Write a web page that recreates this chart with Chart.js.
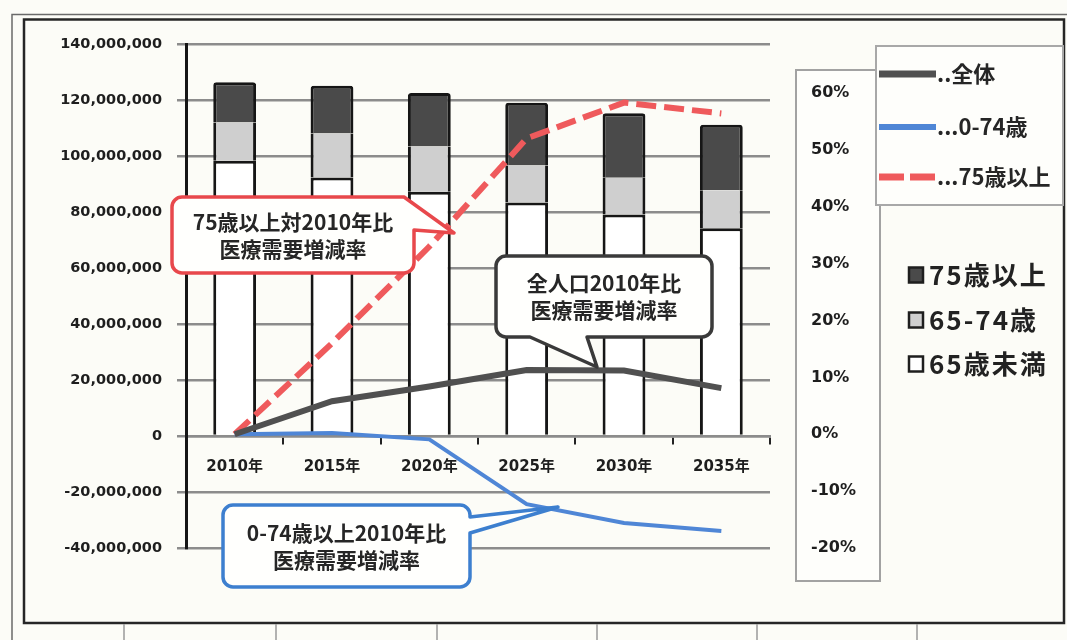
<!DOCTYPE html>
<html lang="ja">
<head>
<meta charset="utf-8">
<title>医療需要増減率</title>
<script src="https://cdn.jsdelivr.net/npm/chart.js@4.4.1/dist/chart.umd.min.js"></script>
<style>
  html, body { margin: 0; padding: 0; background: #fcfcf7; }
  canvas { display: block; }
</style>
</head>
<body>
<canvas id="chart" width="1067" height="640"></canvas>
<script>
// ---- data ----
const years = ['2010年', '2015年', '2020年', '2025年', '2030年', '2035年'];
const popUnder65 = [98300000, 92300000, 87200000, 83400000, 79100000, 74200000];
const pop65to74  = [13700000, 15700000, 16200000, 13200000, 13100000, 13600000];
const pop75plus  = [14300000, 17100000, 19100000, 22400000, 23100000, 23400000];
const rateAll    = [0, 5.8, 8.4, 11.3, 11.2, 8.1];
const rate0to74  = [0, 0.2, -0.9, -12.3, -15.6, -17.0];
const rate75plus = [0, 16, 33, 52, 58.3, 56.4];
const popTicks  = [-40000000, -20000000, 0, 20000000, 40000000, 60000000, 80000000, 100000000, 120000000, 140000000];
const rateTicks = [-20, -10, 0, 10, 20, 30, 40, 50, 60];

const lineLegend = ['..全体', '...0-74歳', '...75歳以上'];
const barLegend  = ['75歳以上', '65-74歳', '65歳未満'];
const noteRed   = ['75歳以上対2010年比', '医療需要増減率'];
const noteGray  = ['全人口2010年比', '医療需要増減率'];
const noteBlue  = ['0-74歳以上2010年比', '医療需要増減率'];

// ---- styling ----
const NUM_FONT = '"DejaVu Sans", "Noto Sans CJK JP", sans-serif';
const JP_FONT = '"Noto Sans CJK JP", sans-serif';
const BG = '#fcfcf7';
const GRID = '#8c8c8c';
const C_ALL = '#505050';
const C_YOUNG = '#4f86d6';
const C_OLD = '#ef5a5c';
const C_BAR_OLD = '#4a4a4a';
const C_BAR_MID = '#cfcfcf';
const C_BAR_YOUNG = '#ffffff';
const BAR_EDGE = '#161616';

function roundBox(ctx, L, T, R, B, r, tailFn) {
  // rounded rectangle; tailFn may insert a pointer on one side
  ctx.beginPath();
  ctx.moveTo(L + r, T);
  if (tailFn && tailFn.side === 'topRight') {
    tailFn.draw(ctx);
  } else {
    ctx.lineTo(R - r, T);
    ctx.arcTo(R, T, R, T + r, r);
    if (tailFn && tailFn.side === 'right') tailFn.draw(ctx);
  }
  ctx.lineTo(R, B - r);
  ctx.arcTo(R, B, R - r, B, r);
  if (tailFn && tailFn.side === 'bottom') tailFn.draw(ctx);
  ctx.lineTo(L + r, B);
  ctx.arcTo(L, B, L, B - r, r);
  ctx.lineTo(L, T + r);
  ctx.arcTo(L, T, L + r, T, r);
  ctx.closePath();
}

function callout(ctx, box, color, lines, tail) {
  ctx.save();
  roundBox(ctx, box.L, box.T, box.R, box.B, 10, tail);
  ctx.fillStyle = '#fffffd';
  ctx.fill();
  ctx.lineWidth = 3.5;
  ctx.lineJoin = 'round';
  ctx.strokeStyle = color;
  ctx.stroke();
  ctx.fillStyle = '#262626';
  ctx.font = 'bold 21px ' + JP_FONT;
  ctx.textAlign = 'center';
  ctx.textBaseline = 'middle';
  const cx = (box.L + box.R) / 2;
  lines.forEach((s, i) => ctx.fillText(s, cx, box.textY + i * 27));
  ctx.restore();
}

const decorations = {
  id: 'decorations',
  beforeDraw(chart) {
    const ctx = chart.ctx;
    ctx.save();
    ctx.fillStyle = BG;
    ctx.fillRect(0, 0, chart.width, chart.height);

    // outer page lines
    ctx.strokeStyle = '#6a6a6a';
    ctx.lineWidth = 1.5;
    ctx.beginPath();
    ctx.moveTo(12, 640); ctx.lineTo(12, 14.5); ctx.lineTo(1067, 14.5);
    ctx.stroke();
    // chart frame
    ctx.strokeStyle = '#262626';
    ctx.lineWidth = 2.5;
    ctx.strokeRect(24, 19.5, 1040, 603.5);
    // table row below the frame
    ctx.strokeStyle = '#9a9a9a';
    ctx.lineWidth = 1.5;
    [124, 276, 437, 597, 757, 917].forEach(x => {
      ctx.beginPath(); ctx.moveTo(x, 624); ctx.lineTo(x, 640); ctx.stroke();
    });

    // panel behind the percentage axis
    ctx.fillStyle = '#fefefb';
    ctx.fillRect(796, 70, 84, 511);
    ctx.strokeStyle = '#a2a2a2';
    ctx.lineWidth = 2;
    ctx.strokeRect(796, 70, 84, 511);

    // line legend panel
    ctx.fillStyle = '#fefefb';
    ctx.fillRect(876, 46, 187, 159);
    ctx.strokeStyle = '#a8a8a8';
    ctx.strokeRect(876, 46, 187, 159);
    ctx.restore();
  },
  afterDatasetsDraw(chart) {
    const ctx = chart.ctx;
    // annotation boxes
    callout(ctx, { L: 172, T: 197, R: 414, B: 273, textY: 222 }, '#e8484c', noteRed, {
      side: 'topRight',
      draw(c) { c.lineTo(404, 197); c.lineTo(454, 233); c.lineTo(414, 230); }
    });
    callout(ctx, { L: 496, T: 256, R: 712, B: 337, textY: 283 }, '#3a3a3a', noteGray, {
      side: 'bottom',
      draw(c) { c.lineTo(587, 337); c.lineTo(597, 367); c.lineTo(530, 337); }
    });
    callout(ctx, { L: 223, T: 505, R: 470, B: 587, textY: 533 }, '#3d7fcf', noteBlue, {
      side: 'right',
      draw(c) { c.lineTo(470, 517); c.lineTo(558, 507); c.lineTo(470, 533); }
    });
  },
  afterDraw(chart) {
    const ctx = chart.ctx;
    ctx.save();
    // line legend entries
    const rows = [74, 127, 177];
    const styles = [
      { color: C_ALL, width: 7, dash: [] },
      { color: C_YOUNG, width: 6, dash: [] },
      { color: C_OLD, width: 7, dash: [25, 6] }
    ];
    rows.forEach((y, i) => {
      ctx.beginPath();
      ctx.setLineDash(styles[i].dash);
      ctx.strokeStyle = styles[i].color;
      ctx.lineWidth = styles[i].width;
      ctx.moveTo(879, y); ctx.lineTo(936, y);
      ctx.stroke();
    });
    ctx.setLineDash([]);
    ctx.fillStyle = '#262626';
    ctx.font = 'bold 22px ' + JP_FONT;
    ctx.textAlign = 'left';
    ctx.textBaseline = 'middle';
    rows.forEach((y, i) => ctx.fillText(lineLegend[i], 937, y));

    // bar legend entries
    const bRows = [275, 320, 364];
    const fills = [C_BAR_OLD, C_BAR_MID, C_BAR_YOUNG];
    bRows.forEach((y, i) => {
      ctx.fillStyle = fills[i];
      ctx.fillRect(909, y - 7.5, 14, 15);
      ctx.strokeStyle = '#1e1e1e';
      ctx.lineWidth = 2.5;
      ctx.strokeRect(909, y - 7.5, 14, 15);
    });
    ctx.fillStyle = '#222';
    ctx.font = 'bold 26px ' + JP_FONT;
    if ('letterSpacing' in ctx) ctx.letterSpacing = '2px';
    bRows.forEach((y, i) => ctx.fillText(barLegend[i], 929, y));
    ctx.restore();
  }
};

const barEdge = { top: 3, left: 3, right: 3, bottom: 0 };

new Chart(document.getElementById('chart'), {
  type: 'bar',
  data: {
    labels: years,
    datasets: [
      { type: 'line', label: '全体', data: rateAll, yAxisID: 'y1', order: 0,
        borderColor: C_ALL, borderWidth: 6, pointRadius: 0, tension: 0, fill: false },
      { type: 'line', label: '0-74歳', data: rate0to74, yAxisID: 'y1', order: 0,
        borderColor: C_YOUNG, borderWidth: 4, pointRadius: 0, tension: 0, fill: false },
      { type: 'line', label: '75歳以上', data: rate75plus, yAxisID: 'y1', order: 0,
        borderColor: C_OLD, borderWidth: 6, borderDash: [20, 8], pointRadius: 0, tension: 0, fill: false },
      { label: '65歳未満', data: popUnder65, yAxisID: 'y', order: 1, stack: 'pop',
        backgroundColor: C_BAR_YOUNG, borderColor: BAR_EDGE, borderWidth: barEdge, borderSkipped: false },
      { label: '65-74歳', data: pop65to74, yAxisID: 'y', order: 1, stack: 'pop',
        backgroundColor: C_BAR_MID, borderColor: BAR_EDGE,
        borderWidth: { top: 0, left: 3, right: 3, bottom: 0 }, borderSkipped: false },
      { label: '75歳以上', data: pop75plus, yAxisID: 'y', order: 1, stack: 'pop',
        backgroundColor: C_BAR_OLD, borderColor: BAR_EDGE, borderWidth: barEdge, borderSkipped: false,
        borderRadius: { topLeft: 3, topRight: 3, bottomLeft: 0, bottomRight: 0 } }
    ]
  },
  options: {
    responsive: false,
    animation: false,
    devicePixelRatio: 1,
    layout: { padding: { left: 26, right: 197, top: 44, bottom: 92 } },
    datasets: { bar: { barPercentage: 0.44, categoryPercentage: 1 } },
    plugins: { legend: { display: false }, tooltip: { enabled: false } },
    scales: {
      x: {
        type: 'category',
        stacked: true,
        position: { y: 0 },
        offset: true,
        grid: { display: true, offset: true, drawOnChartArea: false, drawTicks: true,
                tickLength: 7, color: '#222', lineWidth: 2 },
        border: { display: true, color: GRID, width: 2.5 },
        ticks: { font: { family: NUM_FONT, size: 15, weight: 'bold' }, color: '#1e1e1e',
                 padding: 15, maxRotation: 0, autoSkip: false }
      },
      y: {
        position: 'left',
        stacked: true,
        min: -40000000,
        max: 140000000,
        afterBuildTicks: s => { s.ticks = popTicks.map(v => ({ value: v })); },
        afterFit: s => { s.width = 160; },
        grid: { color: GRID, lineWidth: 2.5, tickLength: 9, drawTicks: true },
        border: { display: true, color: BAR_EDGE, width: 3 },
        ticks: { callback: v => Number(v).toLocaleString('en-US'),
                 font: { family: NUM_FONT, size: 14.5, weight: 'bold' }, color: '#1e1e1e', padding: 15 }
      },
      y1: {
        position: 'right',
        min: -20,
        max: 68.6,
        afterBuildTicks: s => { s.ticks = rateTicks.map(v => ({ value: v })); },
        afterFit: s => { s.width = 100; },
        // invisible tick marks keep the labels inside the percentage panel
        grid: { display: true, drawOnChartArea: false, drawTicks: true, tickLength: 36,
                color: 'rgba(0,0,0,0)' },
        border: { display: false },
        ticks: { callback: v => v + '%', font: { family: NUM_FONT, size: 16, weight: 'bold' },
                 color: '#1e1e1e', padding: 5 }
      }
    }
  },
  plugins: [decorations]
});
</script>
</body>
</html>
